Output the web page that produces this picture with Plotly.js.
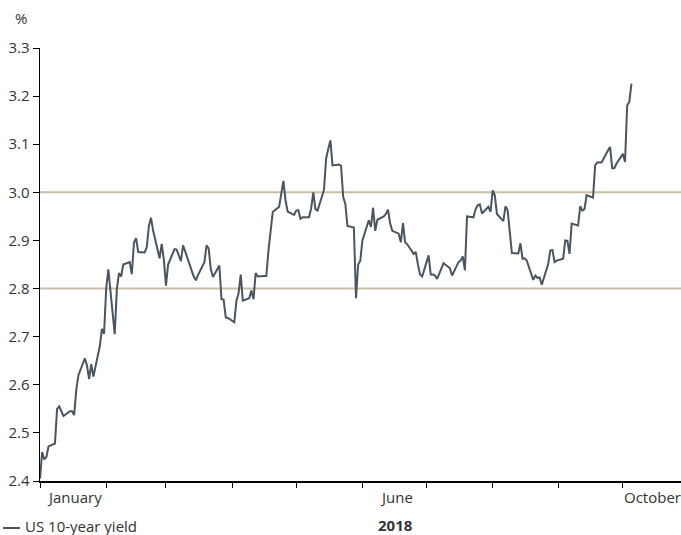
<!DOCTYPE html>
<html>
<head>
<meta charset="utf-8">
<script src="https://cdn.plot.ly/plotly-3.0.1.min.js"></script>
<style>html,body{margin:0;padding:0;background:#fff;}#chart{width:681px;height:535px;}</style>
</head>
<body>
<div id="chart"></div>
<script>
// US 10-year yield, %, one value per business day from Mon 1 Jan 2018 (5 per row = one week)
const yield10y = [
  2.405, 2.460, 2.445, 2.450, 2.472,
  2.478, 2.550, 2.555, 2.545, 2.535,
  2.545, 2.545, 2.537, 2.590, 2.620,
  2.655, 2.640, 2.612, 2.643, 2.617,
  2.680, 2.716, 2.706, 2.800, 2.840,
  2.705, 2.800, 2.832, 2.825, 2.850,
  2.855, 2.830, 2.895, 2.905, 2.876,
  2.875, 2.886, 2.930, 2.947, 2.920,
  2.863, 2.893, 2.860, 2.806, 2.850,
  2.882, 2.881, 2.868, 2.857, 2.890,
  2.850, 2.838, 2.825, 2.817, 2.828,
  2.855, 2.890, 2.883, 2.840, 2.824,
  2.848, 2.778, 2.777, 2.740, 2.739,
  2.730, 2.775, 2.790, 2.829, 2.775,
  2.780, 2.796, 2.778, 2.832, 2.825,
  2.826, 2.826, 2.879, 2.920, 2.959,
  2.970, 2.994, 3.024, 2.983, 2.960,
  2.953, 2.962, 2.963, 2.945, 2.948,
  2.948, 2.967, 3.000, 2.965, 2.962,
  3.005, 3.070, 3.090, 3.108, 3.056,
  3.058, 3.055, 2.990, 2.976, 2.930,
  2.927, 2.780, 2.850, 2.858, 2.900,
  2.942, 2.928, 2.968, 2.920, 2.943,
  2.950, 2.955, 2.964, 2.935, 2.920,
  2.914, 2.896, 2.936, 2.896, 2.892,
  2.872, 2.876, 2.850, 2.829, 2.825,
  2.869, 2.829, 2.829, 2.827, 2.820,
  2.853, 2.849, 2.846, 2.842, 2.827,
  2.855, 2.858, 2.867, 2.838, 2.950,
  2.948, 2.965, 2.973, 2.975, 2.956,
  2.970, 2.960, 3.004, 2.994, 2.955,
  2.940, 2.971, 2.963, 2.920, 2.874,
  2.873, 2.894, 2.862, 2.863, 2.858,
  2.818, 2.827, 2.822, 2.823, 2.808,
  2.851, 2.879, 2.880, 2.855, 2.858,
  2.862, 2.900, 2.899, 2.872, 2.935,
  2.931, 2.971, 2.962, 2.965, 2.994,
  2.989, 3.056, 3.062, 3.062, 3.062,
  3.087, 3.094, 3.050, 3.050, 3.060,
  3.080, 3.063, 3.181, 3.188, 3.226
];
const firstDay = '2018-01-01';
const monthStarts = ['2018-01-01','2018-02-01','2018-03-01','2018-04-01','2018-05-01',
                     '2018-06-01','2018-07-01','2018-08-01','2018-09-01','2018-10-01'];
const monthLabels = ['January','June','October'];
const monthLabelDates = ['2018-01-17','2018-06-17','2018-10-15'];
const refLevels = [2.8, 3.0];
const yTicks = [2.4, 2.5, 2.6, 2.7, 2.8, 2.9, 3.0, 3.1, 3.2, 3.3];
const seriesName = 'US 10-year yield';
const yearLabel = '2018';
const unitLabel = '%';

// business-day dates for the values
function isoDate(d){ return d.toISOString().slice(0,10); }
const dates = [];
{
  const d = new Date(firstDay + 'T00:00:00Z');
  while (dates.length < yield10y.length) {
    const wd = d.getUTCDay();
    if (wd !== 0 && wd !== 6) dates.push(isoDate(d));
    d.setUTCDate(d.getUTCDate() + 1);
  }
}

const FONT = 'Open Sans, DejaVu Sans, sans-serif';
const FS = 15;
const TXT = '#333333';
const LINE = '#4a5560';
const TAN = '#c9bea9';

const trace = {
  x: dates, y: yield10y, type: 'scatter', mode: 'lines', name: seriesName,
  line: {color: LINE, width: 2}, showlegend: false, hoverinfo: 'x+y'
};

const shapes = refLevels.map(v => ({
  type: 'line', xref: 'paper', yref: 'y', x0: 0, x1: 1, y0: v, y1: v,
  line: {color: TAN, width: 2}, layer: 'below'
}));
// legend sample line (bottom-left, below the plot)
shapes.push({type: 'line', xref: 'paper', yref: 'paper', x0: -37/641, x1: -20/641,
  ysizemode: 'pixel', yanchor: 0, y0: -47, y1: -47,
  line: {color: LINE, width: 2}});

const annotations = monthLabels.map((t, i) => ({
  text: t, xref: 'x', yref: 'paper', x: monthLabelDates[i], y: 0, yshift: -16,
  xanchor: 'center', yanchor: 'middle', showarrow: false,
  font: {family: FONT, size: FS, color: TXT}
}));
annotations.push({text: '<b>' + yearLabel + '</b>', xref: 'paper', yref: 'paper',
  x: (395-40)/641, y: 0, yshift: -44, xanchor: 'center', yanchor: 'middle', showarrow: false,
  font: {family: FONT, size: FS, color: TXT}});
annotations.push({text: seriesName, xref: 'paper', yref: 'paper',
  x: -17/641, y: 0, yshift: -45, xanchor: 'left', yanchor: 'middle', showarrow: false,
  font: {family: FONT, size: FS, color: TXT}});
annotations.push({text: unitLabel, xref: 'paper', yref: 'paper',
  x: -19/641, y: 1, yshift: 30, xanchor: 'center', yanchor: 'middle', showarrow: false,
  font: {family: FONT, size: FS, color: TXT}});

const layout = {
  width: 681, height: 535,
  margin: {l: 40, r: 0, t: 48, b: 54},
  paper_bgcolor: '#fff', plot_bgcolor: '#fff',
  font: {family: FONT, size: FS, color: TXT},
  xaxis: {
    type: 'date', range: ['2018-01-01', '2018-10-28 05:00'],
    tickmode: 'array', tickvals: monthStarts, ticktext: monthStarts.map(() => ''),
    ticks: 'outside', ticklen: 5, tickwidth: 1, tickcolor: '#000',
    showline: true, linecolor: '#000', linewidth: 1.5,
    showgrid: false, zeroline: false, fixedrange: true
  },
  yaxis: {
    range: [2.4, 3.3], tickmode: 'array', tickvals: yTicks,
    ticktext: yTicks.map(v => v.toFixed(1)),
    ticks: 'outside', ticklen: 6, tickwidth: 1, tickcolor: '#000',
    showline: true, linecolor: '#000', linewidth: 1.5,
    showgrid: false, zeroline: false, fixedrange: true,
    tickfont: {family: FONT, size: FS, color: TXT}
  },
  shapes: shapes,
  annotations: annotations,
  showlegend: false
};

Plotly.newPlot('chart', [trace], layout, {displayModeBar: false, staticPlot: true});
</script>
</body>
</html>
